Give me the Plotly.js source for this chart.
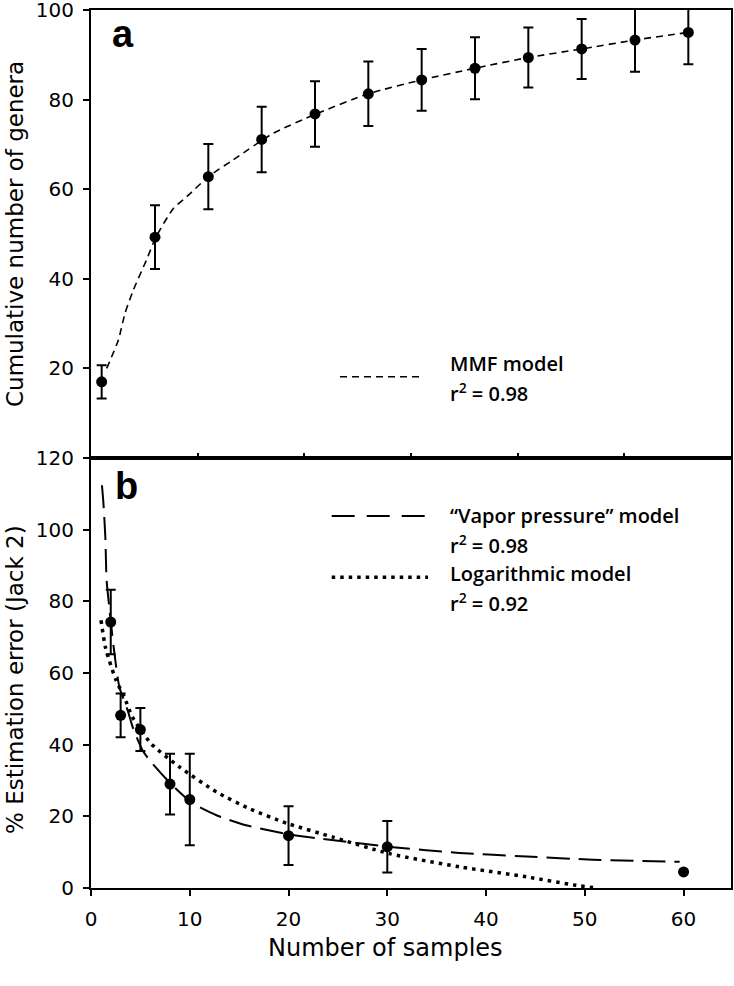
<!DOCTYPE html>
<html>
<head>
<meta charset="utf-8">
<script src="https://cdn.plot.ly/plotly-3.0.1.min.js"></script>
<style>html,body{margin:0;padding:0;background:#fff;}#chart{width:734px;height:986px;}</style>
</head>
<body>
<div id="chart"></div>
<script>
// ---- Panel a: cumulative number of genera ----
const topX = [1, 6, 11, 16, 21, 26, 31, 36, 41, 46, 51, 56];
const topY = [17.0, 49.3, 62.8, 71.1, 76.8, 81.3, 84.4, 87.0, 89.4, 91.3, 93.3, 95.0];
const topErr = [3.7, 7.1, 7.3, 7.3, 7.3, 7.2, 6.9, 6.9, 6.7, 6.7, 7.1, 7.1];

// MMF model curve
const mmfX = [1.47, 2.56, 3.19, 3.97, 5.2, 6.09, 7.72, 8.97, 11.0, 13.3, 17.1, 21.1, 26, 31, 36, 41, 46, 51, 56];
const mmfY = [20.0, 26.3, 32.3, 37.5, 44.2, 49.3, 55.7, 58.3, 62.8, 66.5, 72.5, 76.8, 81.3, 84.4, 87.0, 89.4, 91.3, 93.3, 95.0];

// ---- Panel b: % estimation error (Jack 2) ----
const botX = [2, 3, 5, 8, 10, 20, 30, 60];
const botY = [74.2, 48.2, 44.2, 29.0, 24.7, 14.6, 11.5, 4.5];
const botErr = [9.0, 6.1, 6.0, 8.5, 12.8, 8.2, 7.2, null];

// "Vapor pressure" model curve
const vpX = [1.11, 1.25, 1.45, 1.58, 1.85, 2.29, 2.87, 3.71, 4.22, 5.23, 6.08, 7.6, 8.95, 10.3, 12.7, 15.7, 20, 23.1, 30.6, 37.3, 44.1, 50.8, 59.6];
const vpY = [112.4, 107.7, 98.0, 85.9, 78.4, 67.3, 56.1, 49.6, 44.9, 38.4, 35.2, 30.5, 26.8, 23.6, 20.3, 17.5, 15.0, 13.8, 11.4, 9.8, 8.8, 7.9, 7.3];

// Logarithmic model curve
const logX = [1.01, 1.45, 1.85, 2.53, 3.37, 4.2, 6.08, 8.95, 12.7, 16.0, 19.9, 24.5, 30.2, 37.3, 44.1, 49.1, 51.2];
const logY = [74.7, 67.3, 63.5, 58.0, 53.3, 47.7, 40.3, 33.8, 26.8, 22.2, 18.0, 14.2, 9.6, 5.9, 3.1, 0.75, 0];

// Text
const panelLabels = ['a', 'b'];
const legendTexts = ['MMF model', 'r<sup>2</sup> = 0.98', '\u201CVapor pressure\u201D model', 'r<sup>2</sup> = 0.98', 'Logarithmic model', 'r<sup>2</sup> = 0.92'];
const axisTitles = ['Cumulative number of genera', '% Estimation error (Jack 2)', 'Number of samples'];

const tickFont = {family: 'DejaVu Sans', size: 20, color: '#000'};
const titleFont = {family: 'DejaVu Sans', size: 23, color: '#000'};
const legFont = {family: 'Open Sans', size: 20, color: '#000', weight: 600};

const traces = [
  {x: mmfX, y: mmfY, xaxis: 'x', yaxis: 'y', mode: 'lines',
   line: {color: '#000', width: 1.6, dash: '7px,5px', shape: 'spline', smoothing: 0.6}, hoverinfo: 'skip'},
  {x: topX, y: topY, xaxis: 'x', yaxis: 'y', mode: 'markers',
   marker: {color: '#000', size: 11, symbol: 'circle'},
   error_y: {type: 'data', array: topErr, visible: true, color: '#000', thickness: 2, width: 5}},
  {x: vpX, y: vpY, xaxis: 'x2', yaxis: 'y2', mode: 'lines',
   line: {color: '#000', width: 2, dash: '23px,9px', shape: 'spline', smoothing: 0.6}, hoverinfo: 'skip'},
  {x: logX, y: logY, xaxis: 'x2', yaxis: 'y2', mode: 'lines',
   line: {color: '#000', width: 3.5, dash: '3.5px,5px', shape: 'spline', smoothing: 0.6}, hoverinfo: 'skip'},
  {x: botX, y: botY, xaxis: 'x2', yaxis: 'y2', mode: 'markers',
   marker: {color: '#000', size: 11, symbol: 'circle'},
   error_y: {type: 'data', array: botErr, visible: true, color: '#000', thickness: 2, width: 5}}
];

const L = 91, T = 10, PW = 640, PH = 878;
const px = v => (v - L) / PW;
const py = v => (T + PH - v) / PH;
const split = 430 / 878;

const axBase = {showline: true, linecolor: '#000', linewidth: 2, mirror: true, showgrid: false, zeroline: false,
  tickcolor: '#000', tickwidth: 2, tickfont: tickFont, ticklabeloverflow: 'allow'};

const layout = {
  width: 734, height: 986,
  margin: {l: L, r: 3, t: T, b: 98},
  paper_bgcolor: '#fff', plot_bgcolor: '#fff',
  showlegend: false,
  xaxis: Object.assign({}, axBase, {domain: [0, 1], anchor: 'y', range: [0, 60], tick0: 0, dtick: 10,
    ticks: 'inside', ticklen: 5, showticklabels: false}),
  yaxis: Object.assign({}, axBase, {domain: [split, 1], anchor: 'x', range: [0, 100],
    tickvals: [20, 40, 60, 80, 100], ticks: 'outside', ticklen: 6, ticklabelstandoff: 5}),
  xaxis2: Object.assign({}, axBase, {domain: [0, 1], anchor: 'y2', range: [0, 64.8], tick0: 0, dtick: 10,
    ticks: 'outside', ticklen: 6, ticklabelstandoff: 6}),
  yaxis2: Object.assign({}, axBase, {domain: [0, split], anchor: 'x2', range: [0, 120], tick0: 0, dtick: 20,
    ticks: 'outside', ticklen: 6, ticklabelstandoff: 5}),
  annotations: [
    {text: axisTitles[0], xref: 'paper', yref: 'paper', x: px(15), y: py(234), textangle: -90,
     showarrow: false, xanchor: 'center', yanchor: 'middle', font: titleFont},
    {text: axisTitles[1], xref: 'paper', yref: 'paper', x: px(15), y: py(680), textangle: -90,
     showarrow: false, xanchor: 'center', yanchor: 'middle', font: titleFont},
    {text: axisTitles[2], xref: 'paper', yref: 'paper', x: px(385.5), y: py(948),
     showarrow: false, xanchor: 'center', yanchor: 'middle', font: {family: 'DejaVu Sans', size: 24, color: '#000'}},
    {text: '<b>' + panelLabels[0] + '</b>', xref: 'paper', yref: 'paper', x: px(123), y: py(34),
     showarrow: false, xanchor: 'center', yanchor: 'middle', font: {family: 'Liberation Sans', size: 38, color: '#000'}},
    {text: '<b>' + panelLabels[1] + '</b>', xref: 'paper', yref: 'paper', x: px(126), y: py(486),
     showarrow: false, xanchor: 'center', yanchor: 'middle', font: {family: 'Liberation Sans', size: 38, color: '#000'}},
    {text: legendTexts[0], xref: 'paper', yref: 'paper', x: px(448), y: py(363), showarrow: false, xanchor: 'left', yanchor: 'middle', font: legFont},
    {text: legendTexts[1], xref: 'paper', yref: 'paper', x: px(448), y: py(392), showarrow: false, xanchor: 'left', yanchor: 'middle', font: legFont},
    {text: legendTexts[2], xref: 'paper', yref: 'paper', x: px(448), y: py(515), showarrow: false, xanchor: 'left', yanchor: 'middle', font: legFont},
    {text: legendTexts[3], xref: 'paper', yref: 'paper', x: px(448), y: py(544), showarrow: false, xanchor: 'left', yanchor: 'middle', font: legFont},
    {text: legendTexts[4], xref: 'paper', yref: 'paper', x: px(448), y: py(573), showarrow: false, xanchor: 'left', yanchor: 'middle', font: legFont},
    {text: legendTexts[5], xref: 'paper', yref: 'paper', x: px(448), y: py(602), showarrow: false, xanchor: 'left', yanchor: 'middle', font: legFont}
  ],
  shapes: [
    {type: 'line', xref: 'paper', yref: 'paper', x0: px(340), x1: px(424), y0: py(376.7), y1: py(376.7),
     line: {color: '#000', width: 1.6, dash: '7px,5px'}},
    {type: 'line', xref: 'paper', yref: 'paper', x0: px(331.7), x1: px(425), y0: py(516), y1: py(516),
     line: {color: '#000', width: 2, dash: '23px,12px'}},
    {type: 'line', xref: 'paper', yref: 'paper', x0: px(331.7), x1: px(428), y0: py(577.3), y1: py(577.3),
     line: {color: '#000', width: 3.5, dash: '3.5px,5px'}}
  ]
};

Plotly.newPlot('chart', traces, layout, {displayModeBar: false, staticPlot: true});
</script>
</body>
</html>
